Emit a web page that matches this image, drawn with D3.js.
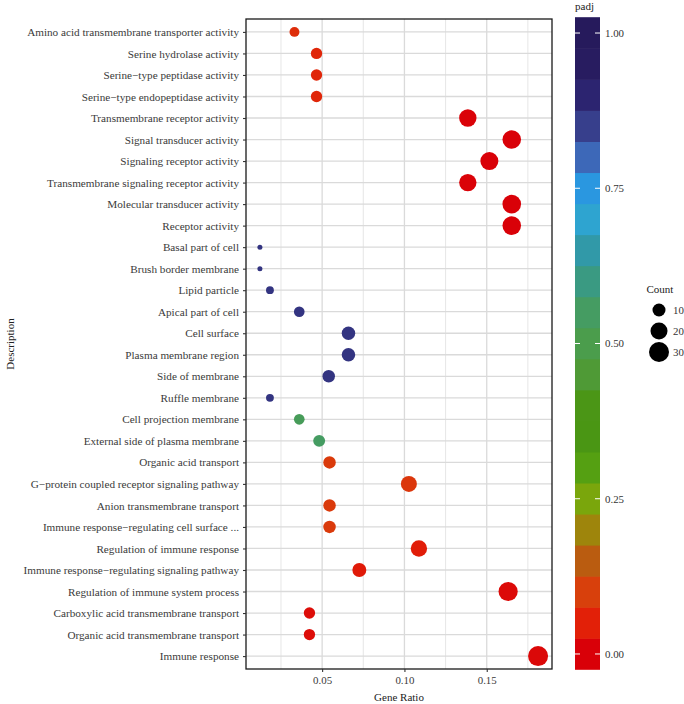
<!DOCTYPE html>
<html>
<head>
<meta charset="utf-8">
<script src="https://cdn.jsdelivr.net/npm/d3@7"></script>
<style>
  html, body { margin: 0; padding: 0; background: #fff; }
  svg { display: block; }
  text { font-family: "Liberation Serif", "DejaVu Serif", serif; }
</style>
</head>
<body>
<svg id="chart" width="684" height="704"></svg>
<script>
// ---------------- DATA ----------------
const categories = [
  "Amino acid transmembrane transporter activity",
  "Serine hydrolase activity",
  "Serine\u2212type peptidase activity",
  "Serine\u2212type endopeptidase activity",
  "Transmembrane receptor activity",
  "Signal transducer activity",
  "Signaling receptor activity",
  "Transmembrane signaling receptor activity",
  "Molecular transducer activity",
  "Receptor activity",
  "Basal part of cell",
  "Brush border membrane",
  "Lipid particle",
  "Apical part of cell",
  "Cell surface",
  "Plasma membrane region",
  "Side of membrane",
  "Ruffle membrane",
  "Cell projection membrane",
  "External side of plasma membrane",
  "Organic acid transport",
  "G\u2212protein coupled receptor signaling pathway",
  "Anion transmembrane transport",
  "Immune response\u2212regulating cell surface ...",
  "Regulation of immune response",
  "Immune response\u2212regulating signaling pathway",
  "Regulation of immune system process",
  "Carboxylic acid transmembrane transport",
  "Organic acid transmembrane transport",
  "Immune response"
];
const geneRatio = [
  0.0332, 0.0466, 0.0466, 0.0466, 0.1385, 0.1652, 0.1516, 0.1385, 0.1652, 0.1652,
  0.0122, 0.0122, 0.0183, 0.0361, 0.0660, 0.0660, 0.0540, 0.0183, 0.0361, 0.0482,
  0.0545, 0.1027, 0.0545, 0.0545, 0.1088, 0.0726, 0.1630, 0.0423, 0.0423, 0.1812
];
const counts = [
  5, 7, 7, 7, 21, 25, 23, 21, 25, 25,
  2, 2, 3, 6, 11, 11, 9, 3, 6, 8,
  9, 17, 9, 9, 18, 12, 27, 7, 7, 30
];
const padj = [
  0.07, 0.06, 0.06, 0.06, 0.003, 0.002, 0.002, 0.003, 0.002, 0.002,
  0.87, 0.87, 0.87, 0.87, 0.87, 0.87, 0.87, 0.87, 0.53, 0.55,
  0.09, 0.085, 0.09, 0.09, 0.045, 0.04, 0.015, 0.02, 0.02, 0.012
];
// colour bar sample colours at padj = 0.00, 0.05, ..., 1.00
const gradientColors = [
  "#d90008", "#e22008", "#d8400c", "#ba5c10", "#9e850c", "#7aa60c",
  "#55a012", "#4a9614", "#4b9616", "#4f9a36", "#4b9d4c", "#459c62",
  "#3a9a82", "#3199a8", "#2ea4d0", "#2a97e0", "#3d68b8", "#373f8c",
  "#2c2470", "#281c60", "#261a5c"
];
const xTicks = [0.05, 0.10, 0.15];
const xMinorTicks = [0.025, 0.075, 0.125, 0.175];
const padjTicks = [0.00, 0.25, 0.50, 0.75, 1.00];
const countLegend = [10, 20, 30];

// ---------------- LAYOUT ----------------
const svg = d3.select("#chart");
const panel = { x0: 246, x1: 552, y0: 19, y1: 669 };

const xMin = d3.min(geneRatio), xMax = d3.max(geneRatio);
const xPad = (xMax - xMin) * 0.05;
const x = d3.scaleLinear().domain([xMin - xPad, xMax + xPad]).range([panel.x0, panel.x1]);
const y = d3.scalePoint().domain(categories).range([panel.y0, panel.y1]).padding(0.6);

const color = d3.scaleLinear()
  .domain(gradientColors.map((c, i) => i / (gradientColors.length - 1)))
  .range(gradientColors)
  .interpolate(d3.interpolateRgb)
  .clamp(true);

const cMin = d3.min(counts), cMax = d3.max(counts);
const rLin = d3.scaleLinear().domain([0, 1]).range([2.5, 10]);
const radius = c => rLin(Math.sqrt(Math.max(0, (c - cMin) / (cMax - cMin))));

const data = categories.map((d, i) => ({ cat: d, ratio: geneRatio[i], count: counts[i], padj: padj[i] }));

// ---------------- GRID ----------------
const grid = svg.append("g");
grid.selectAll("line.minor").data(xMinorTicks).join("line")
  .attr("x1", d => x(d)).attr("x2", d => x(d))
  .attr("y1", panel.y0).attr("y2", panel.y1)
  .attr("stroke", "#e3e3e3").attr("stroke-width", 0.9);
grid.selectAll("line.majorx").data(xTicks).join("line")
  .attr("x1", d => x(d)).attr("x2", d => x(d))
  .attr("y1", panel.y0).attr("y2", panel.y1)
  .attr("stroke", "#dadada").attr("stroke-width", 1.3);
grid.selectAll("line.majory").data(categories).join("line")
  .attr("x1", panel.x0).attr("x2", panel.x1)
  .attr("y1", d => y(d)).attr("y2", d => y(d))
  .attr("stroke", "#dadada").attr("stroke-width", 1.3);

// ---------------- POINTS ----------------
svg.append("g").selectAll("circle").data(data).join("circle")
  .attr("cx", d => x(d.ratio))
  .attr("cy", d => y(d.cat))
  .attr("r", d => radius(d.count))
  .attr("fill", d => color(d.padj));

// ---------------- PANEL BORDER ----------------
svg.append("rect")
  .attr("x", panel.x0).attr("y", panel.y0)
  .attr("width", panel.x1 - panel.x0).attr("height", panel.y1 - panel.y0)
  .attr("fill", "none").attr("stroke", "#1a1a1a").attr("stroke-width", 1.3);

// ---------------- AXES ----------------
const xAxis = svg.append("g").attr("transform", `translate(0,${panel.y1})`)
  .call(d3.axisBottom(x).tickValues(xTicks).tickFormat(d3.format(".2f")).tickSize(3).tickPadding(4));
xAxis.select(".domain").remove();
xAxis.selectAll(".tick line").attr("stroke", "#333").attr("stroke-width", 1.1);
xAxis.selectAll(".tick text").attr("fill", "#3a3a3a")
  .style("font-family", "Liberation Serif").style("font-size", "10.9px");

const yAxis = svg.append("g").attr("transform", `translate(${panel.x0},0)`)
  .call(d3.axisLeft(y).tickSize(3).tickPadding(4));
yAxis.select(".domain").remove();
yAxis.selectAll(".tick line").attr("stroke", "#333").attr("stroke-width", 1.1);
yAxis.selectAll(".tick text").attr("fill", "#3a3a3a")
  .style("font-family", "Liberation Serif").style("font-size", "11.2px");

svg.append("text")
  .attr("x", (panel.x0 + panel.x1) / 2).attr("y", 701)
  .attr("text-anchor", "middle").attr("fill", "#222")
  .style("font-size", "11px").text("Gene Ratio");

svg.append("text")
  .attr("transform", `translate(14,${(panel.y0 + panel.y1) / 2}) rotate(-90)`)
  .attr("text-anchor", "middle").attr("fill", "#222")
  .style("font-size", "11px").text("Description");

// ---------------- COLOUR BAR ----------------
const bar = { x: 575, w: 25, top: 17.5, bottom: 669.5 };
const nbin = gradientColors.length;
const binH = (bar.bottom - bar.top) / nbin;
const binVals = d3.range(nbin).map(i => i / (nbin - 1));
const barY = d3.scaleLinear().domain([0, 1]).range([bar.bottom - binH / 2, bar.top + binH / 2]);

svg.append("g").selectAll("rect").data(binVals).join("rect")
  .attr("x", bar.x).attr("width", bar.w)
  .attr("y", d => barY(d) - binH / 2 - 0.3).attr("height", binH + 0.6)
  .attr("fill", d => color(d));

const tickG = svg.append("g");
tickG.selectAll("line.l").data(padjTicks).join("line")
  .attr("x1", bar.x).attr("x2", bar.x + 5)
  .attr("y1", d => barY(d)).attr("y2", d => barY(d))
  .attr("stroke", "#fff").attr("stroke-width", 1);
tickG.selectAll("line.r").data(padjTicks).join("line")
  .attr("x1", bar.x + bar.w - 5).attr("x2", bar.x + bar.w)
  .attr("y1", d => barY(d)).attr("y2", d => barY(d))
  .attr("stroke", "#fff").attr("stroke-width", 1);
tickG.selectAll("text").data(padjTicks).join("text")
  .attr("x", bar.x + bar.w + 5).attr("y", d => barY(d)).attr("dy", "0.35em")
  .attr("fill", "#333").style("font-size", "10.9px")
  .text(d => d3.format(".2f")(d));

svg.append("text").attr("x", 575).attr("y", 9.5)
  .attr("fill", "#222").style("font-size", "11px").text("padj");

// ---------------- SIZE LEGEND ----------------
svg.append("text").attr("x", 646.5).attr("y", 293)
  .attr("fill", "#222").style("font-size", "11px").text("Count");
const legY = d3.scalePoint().domain(countLegend).range([310, 352]);
const sizeG = svg.append("g");
sizeG.selectAll("circle").data(countLegend).join("circle")
  .attr("cx", 659).attr("cy", d => legY(d)).attr("r", d => radius(d)).attr("fill", "#000");
sizeG.selectAll("text").data(countLegend).join("text")
  .attr("x", 673).attr("y", d => legY(d)).attr("dy", "0.35em")
  .attr("fill", "#333").style("font-size", "10.9px").text(d => d);
</script>
</body>
</html>
